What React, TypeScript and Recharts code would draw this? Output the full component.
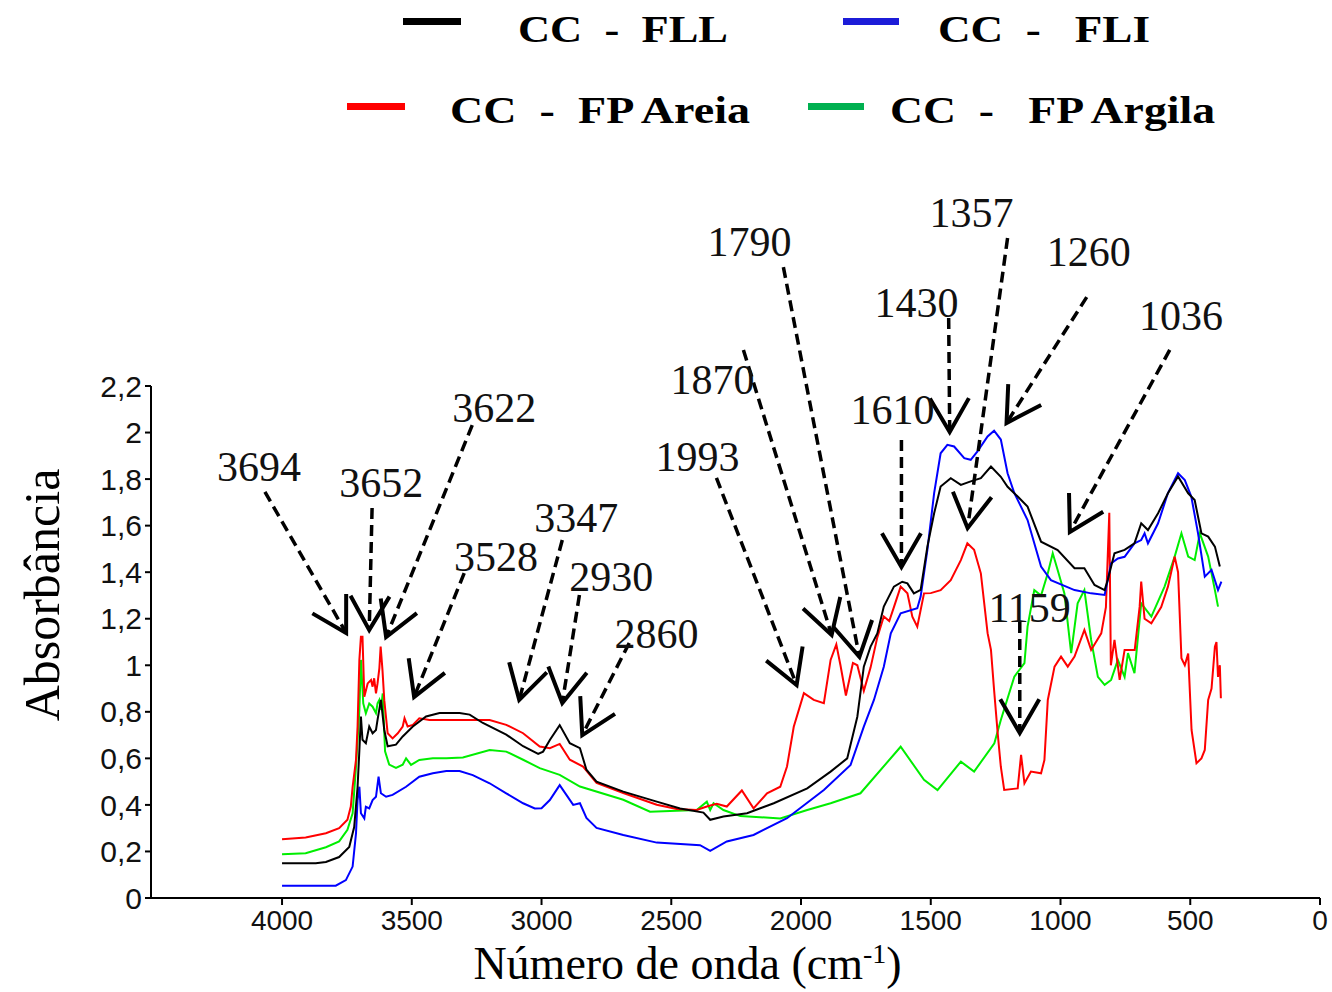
import React from 'react';
import {
  LineChart,
  Line,
  XAxis,
  YAxis,
  Legend,
  ReferenceLine,
  ReferenceDot,
} from 'recharts';

// spectra: [wavenumber (cm-1), absorbance]
const fllSpectrum: [number, number][] = [
  [4000, 0.149], [3870, 0.149], [3831, 0.155], [3780, 0.176], [3741, 0.219], [3722, 0.305],
  [3709, 0.476], [3702, 0.634], [3696, 0.78], [3690, 0.68], [3677, 0.665], [3664, 0.737],
  [3651, 0.708], [3638, 0.722], [3632, 0.765], [3619, 0.851], [3606, 0.722], [3593, 0.652],
  [3561, 0.659], [3535, 0.694], [3496, 0.737], [3445, 0.78], [3393, 0.795], [3316, 0.795],
  [3277, 0.788], [3226, 0.752], [3136, 0.702], [3071, 0.652], [3013, 0.619], [2994, 0.629],
  [2968, 0.679], [2930, 0.743], [2891, 0.665], [2852, 0.644], [2827, 0.551], [2788, 0.5],
  [2685, 0.457], [2556, 0.414], [2466, 0.385], [2376, 0.367], [2350, 0.336], [2299, 0.35],
  [2208, 0.364], [2105, 0.407], [1976, 0.471], [1886, 0.543], [1822, 0.6], [1783, 0.779],
  [1758, 0.994], [1732, 1.08], [1706, 1.137], [1681, 1.252], [1642, 1.338], [1610, 1.359],
  [1590, 1.352], [1565, 1.309], [1539, 1.324], [1513, 1.51], [1487, 1.653], [1462, 1.768],
  [1423, 1.804], [1384, 1.775], [1346, 1.79], [1307, 1.804], [1268, 1.854], [1230, 1.81],
  [1204, 1.767], [1165, 1.725], [1127, 1.682], [1075, 1.531], [1011, 1.495], [946, 1.417],
  [908, 1.417], [869, 1.345], [830, 1.323], [818, 1.366], [792, 1.481], [753, 1.496],
  [715, 1.524], [689, 1.61], [663, 1.581], [624, 1.653], [586, 1.739], [547, 1.811],
  [508, 1.739], [483, 1.71], [457, 1.567], [431, 1.553], [405, 1.51], [386, 1.424],
];

const fliSpectrum: [number, number][] = [
  [4000, 0.053], [3793, 0.053], [3754, 0.077], [3728, 0.135], [3715, 0.278], [3709, 0.421],
  [3702, 0.478], [3696, 0.364], [3683, 0.342], [3677, 0.392], [3664, 0.385], [3651, 0.421],
  [3638, 0.435], [3628, 0.521], [3619, 0.45], [3599, 0.435], [3574, 0.443], [3522, 0.478],
  [3471, 0.521], [3419, 0.536], [3367, 0.546], [3316, 0.546], [3265, 0.528], [3200, 0.493],
  [3136, 0.45], [3071, 0.407], [3026, 0.385], [3000, 0.386], [2968, 0.421], [2930, 0.485],
  [2878, 0.4], [2852, 0.407], [2827, 0.344], [2788, 0.301], [2685, 0.271], [2556, 0.238],
  [2389, 0.227], [2350, 0.203], [2286, 0.243], [2183, 0.271], [2054, 0.343], [1912, 0.464],
  [1809, 0.572], [1758, 0.736], [1719, 0.851], [1681, 0.994], [1654, 1.137], [1616, 1.223],
  [1552, 1.245], [1539, 1.295], [1513, 1.496], [1487, 1.74], [1462, 1.911], [1436, 1.947],
  [1410, 1.94], [1371, 1.89], [1346, 1.883], [1320, 1.919], [1281, 1.983], [1256, 2.008],
  [1230, 1.97], [1204, 1.825], [1178, 1.74], [1127, 1.624], [1075, 1.424], [1037, 1.366],
  [946, 1.323], [882, 1.309], [830, 1.302], [818, 1.366], [805, 1.438], [779, 1.459],
  [753, 1.466], [715, 1.524], [689, 1.538], [676, 1.567], [663, 1.524], [624, 1.61],
  [586, 1.74], [547, 1.825], [521, 1.796], [496, 1.725], [470, 1.567], [444, 1.381],
  [418, 1.41], [393, 1.323], [380, 1.359],
];

const areiaSpectrum: [number, number][] = [
  [4000, 0.252], [3909, 0.26], [3831, 0.278], [3780, 0.3], [3748, 0.336], [3735, 0.393],
  [3728, 0.478], [3715, 0.593], [3709, 0.736], [3702, 1.023], [3696, 1.123], [3690, 1.123],
  [3683, 0.865], [3670, 0.922], [3657, 0.937], [3651, 0.908], [3645, 0.944], [3638, 0.879],
  [3632, 0.922], [3625, 0.987], [3620, 1.08], [3613, 0.98], [3606, 0.85], [3593, 0.708],
  [3574, 0.686], [3554, 0.708], [3535, 0.737], [3528, 0.772], [3516, 0.737], [3496, 0.744],
  [3471, 0.772], [3432, 0.765], [3342, 0.765], [3200, 0.765], [3136, 0.744], [3071, 0.708],
  [3007, 0.651], [2968, 0.644], [2930, 0.662], [2891, 0.594], [2840, 0.565], [2788, 0.494],
  [2685, 0.451], [2556, 0.401], [2479, 0.382], [2402, 0.378], [2363, 0.393], [2325, 0.405],
  [2286, 0.393], [2228, 0.462], [2183, 0.385], [2131, 0.45], [2080, 0.478], [2054, 0.565],
  [2028, 0.736], [1989, 0.88], [1951, 0.851], [1912, 0.837], [1886, 1.023], [1864, 1.09],
  [1848, 1.0], [1827, 0.87], [1800, 1.01], [1783, 1.0], [1758, 0.89], [1732, 0.99],
  [1706, 1.12], [1681, 1.21], [1660, 1.19], [1642, 1.25], [1616, 1.338], [1590, 1.309],
  [1571, 1.209], [1552, 1.166], [1526, 1.309], [1500, 1.31], [1462, 1.323], [1423, 1.366],
  [1384, 1.452], [1359, 1.524], [1333, 1.496], [1307, 1.395], [1281, 1.138], [1268, 1.066],
  [1256, 0.894], [1242, 0.707], [1230, 0.564], [1217, 0.464], [1165, 0.471], [1152, 0.615],
  [1139, 0.493], [1114, 0.543], [1075, 0.536], [1062, 0.593], [1049, 0.851], [1023, 0.994],
  [998, 1.037], [972, 0.994], [946, 1.037], [908, 1.152], [882, 1.066], [843, 1.137],
  [825, 1.25], [812, 1.655], [806, 1.0], [792, 1.109], [772, 0.937], [753, 1.066],
  [714, 1.066], [695, 1.252], [689, 1.36], [676, 1.2], [650, 1.18], [612, 1.25],
  [586, 1.338], [560, 1.467], [547, 1.4], [534, 1.03], [521, 1.0], [508, 1.05],
  [495, 0.722], [476, 0.579], [457, 0.6], [444, 0.636], [431, 0.851], [418, 0.9],
  [405, 1.08], [399, 1.1], [393, 0.95], [386, 1.0], [382, 0.858],
];

const argilaSpectrum: [number, number][] = [
  [4000, 0.188], [3909, 0.192], [3831, 0.218], [3780, 0.243], [3748, 0.293], [3728, 0.364],
  [3715, 0.564], [3702, 0.807], [3696, 1.023], [3687, 0.836], [3677, 0.794], [3664, 0.836],
  [3651, 0.822], [3638, 0.794], [3632, 0.836], [3625, 0.851], [3619, 0.808], [3612, 0.879],
  [3603, 0.63], [3587, 0.573], [3561, 0.559], [3535, 0.573], [3522, 0.6], [3503, 0.572],
  [3471, 0.593], [3419, 0.6], [3367, 0.6], [3303, 0.604], [3200, 0.636], [3136, 0.629],
  [3071, 0.594], [3007, 0.558], [2930, 0.529], [2852, 0.479], [2685, 0.422], [2582, 0.371],
  [2402, 0.378], [2363, 0.414], [2350, 0.378], [2337, 0.407], [2299, 0.378], [2234, 0.352],
  [2080, 0.342], [1976, 0.378], [1886, 0.407], [1771, 0.45], [1616, 0.65], [1526, 0.508],
  [1474, 0.464], [1384, 0.586], [1333, 0.543], [1255, 0.665], [1230, 0.765], [1178, 0.951],
  [1139, 1.009], [1127, 1.166], [1101, 1.323], [1075, 1.3], [1049, 1.395], [1030, 1.481],
  [1011, 1.409], [985, 1.309], [959, 1.052], [934, 1.266], [908, 1.323], [882, 1.109],
  [856, 0.95], [830, 0.916], [805, 0.937], [779, 1.023], [753, 0.95], [740, 1.052],
  [715, 0.966], [689, 1.266], [650, 1.209], [599, 1.338], [560, 1.467], [534, 1.567],
  [508, 1.467], [483, 1.452], [463, 1.567], [431, 1.467], [405, 1.323], [393, 1.252],
];

const wavenumberTicks = [4000, 3500, 3000, 2500, 2000, 1500, 1000, 500, 0];
const absorbanceTicks = [0, 0.2, 0.4, 0.6, 0.8, 1, 1.2, 1.4, 1.6, 1.8, 2, 2.2];

// drawing order: green under, black on top
const series = [
  { key: 'argila', name: 'CC  -   FP Argila', color: '#00ee00', swatch: '#00b050', data: argilaSpectrum },
  { key: 'areia', name: 'CC  -  FP Areia', color: '#ff0000', swatch: '#ff0000', data: areiaSpectrum },
  { key: 'fli', name: 'CC  -   FLI', color: '#0000ff', swatch: '#1c1cd8', data: fliSpectrum },
  { key: 'fll', name: 'CC  -  FLL', color: '#000000', swatch: '#000000', data: fllSpectrum },
];

// peak annotations, all in data units (wavenumber, absorbance)
const peakNotes = [
  { label: '3694', text: [4089, 1.852], from: [4066, 1.745], to: [3753, 1.139] },
  { label: '3652', text: [3618, 1.783], from: [3653, 1.676], to: [3664, 1.152] },
  { label: '3622', text: [3182, 2.105], from: [3267, 2.032], to: [3599, 1.121] },
  { label: '3528', text: [3175, 1.465], from: [3298, 1.396], to: [3491, 0.864] },
  { label: '3347', text: [2866, 1.633], from: [2920, 1.538], to: [3086, 0.851] },
  { label: '2930', text: [2731, 1.379], from: [2854, 1.302], to: [2920, 0.838] },
  { label: '2860', text: [2557, 1.134], from: [2662, 1.096], to: [2843, 0.7] },
  { label: '1993', text: [2399, 1.895], from: [2326, 1.805], to: [2017, 0.915] },
  { label: '1870', text: [2341, 2.226], from: [2222, 2.355], to: [1882, 1.13] },
  { label: '1790', text: [2199, 2.819], from: [2068, 2.711], to: [1775, 1.036] },
  { label: '1610', text: [1647, 2.097], from: [1613, 1.968], to: [1613, 1.422] },
  { label: '1430', text: [1555, 2.557], from: [1431, 2.492], to: [1427, 2.002] },
  { label: '1357', text: [1343, 2.943], from: [1204, 2.836], to: [1358, 1.59] },
  { label: '1260', text: [891, 2.776], from: [899, 2.582], to: [1208, 2.041] },
  { label: '1036', text: [536, 2.501], from: [579, 2.355], to: [964, 1.573] },
  { label: '1159', text: [1119, 1.246], from: [1157, 1.186], to: [1157, 0.709] },
];

const serif = '"Liberation Serif", "Times New Roman", serif';
const sans = '"Liberation Sans", Arial, sans-serif';

const DashedArrow = (props: any) => {
  const { x1, y1, x2, y2 } = props;
  const ang = Math.atan2(y2 - y1, x2 - x1);
  const len = 39;
  const spread = Math.PI / 6;
  const ax = x2 - len * Math.cos(ang - spread);
  const ay = y2 - len * Math.sin(ang - spread);
  const bx = x2 - len * Math.cos(ang + spread);
  const by = y2 - len * Math.sin(ang + spread);
  return (
    <g>
      <line x1={x1} y1={y1} x2={x2} y2={y2} stroke="#000" strokeWidth={3.5} strokeDasharray="11 6" />
      <polyline
        points={`${ax},${ay} ${x2},${y2} ${bx},${by}`}
        fill="none"
        stroke="#000"
        strokeWidth={4}
      />
    </g>
  );
};

const NoteText = (label: string) => (props: any) => (
  <text
    x={props.cx}
    y={props.cy}
    textAnchor="middle"
    dominantBaseline="central"
    fontFamily={serif}
    fontSize={42}
    fill="#111"
  >
    {label}
  </text>
);

// legend placement: swatch box and text start / width, baseline
const legendSlots: Record<string, { sx: number; sw: number; sy: number; tx: number; tw: number; ty: number }> = {
  fll: { sx: 403, sw: 58, sy: 18, tx: 518, tw: 210, ty: 42 },
  fli: { sx: 843, sw: 56, sy: 18, tx: 938, tw: 212, ty: 42 },
  areia: { sx: 347, sw: 58, sy: 103, tx: 450, tw: 300, ty: 123 },
  argila: { sx: 808, sw: 56, sy: 103, tx: 890, tw: 325, ty: 123 },
};

const LegendContent = () => (
  <svg width={1332} height={150}>
    {series.map((s) => {
      const slot = legendSlots[s.key];
      return (
        <g key={s.key}>
          <rect x={slot.sx} y={slot.sy} width={slot.sw} height={7} fill={s.swatch} />
          <text
            x={slot.tx}
            y={slot.ty}
            textLength={slot.tw}
            lengthAdjust="spacingAndGlyphs"
            fontFamily={serif}
            fontWeight="bold"
            fontSize={38}
            fill="#000"
            style={{ whiteSpace: 'pre' }}
          >
            {s.name}
          </text>
        </g>
      );
    })}
  </svg>
);

const XTitle = (props: any) => {
  const { viewBox } = props;
  const cx = viewBox.x + viewBox.width / 2 - 48;
  return (
    <text x={cx} y={979} textAnchor="middle" fontFamily={serif} fontSize={46} fill="#000">
      Número de onda (cm
      <tspan dy={-16} fontSize={28}>-1</tspan>
      <tspan dy={16}>)</tspan>
    </text>
  );
};

const YTitle = (props: any) => {
  const { viewBox } = props;
  const cy = viewBox.y + viewBox.height / 2 - 47;
  return (
    <text
      x={42}
      y={cy}
      transform={`rotate(-90, 42, ${cy})`}
      textAnchor="middle"
      dominantBaseline="central"
      fontFamily={serif}
      fontSize={50}
      fill="#000"
    >
      Absorbância
    </text>
  );
};

export default function App() {
  return (
    <div style={{ position: 'absolute', left: 0, top: 0, width: 1332, height: 992, background: '#fff' }}>
      <LineChart width={1332} height={992} margin={{ top: 386, right: 12, bottom: 44, left: 81 }}>
        <XAxis
          type="number"
          dataKey="wn"
          domain={[0, 4505]}
          allowDataOverflow
          reversed
          ticks={wavenumberTicks}
          interval={0}
          height={50}
          stroke="#000"
          strokeWidth={2}
          tickSize={7}
          tickMargin={5}
          tick={{ fontSize: 28, fill: '#111', fontFamily: sans }}
          label={<XTitle />}
        />
        <YAxis
          type="number"
          dataKey="abs"
          domain={[0, 2.2]}
          ticks={absorbanceTicks}
          interval={0}
          width={70}
          stroke="#000"
          strokeWidth={2}
          tickSize={6}
          tickMargin={3}
          tickFormatter={(v: number) => String(Math.round(v * 10) / 10).replace('.', ',')}
          tick={{ fontSize: 30, fill: '#111', fontFamily: sans }}
          label={<YTitle />}
        />
        <Legend
          layout="vertical"
          align="center"
          verticalAlign="middle"
          wrapperStyle={{ top: 0, left: 0, width: 1332, height: 150 }}
          content={<LegendContent />}
        />
        {series.map((s) => (
          <Line
            key={s.key}
            name={s.name}
            data={s.data.map(([wn, abs]) => ({ wn, abs }))}
            dataKey="abs"
            type="linear"
            stroke={s.color}
            strokeWidth={2}
            dot={false}
            activeDot={false}
            isAnimationActive={false}
          />
        ))}
        {peakNotes.map((n) => (
          <ReferenceLine
            key={`arrow-${n.label}`}
            segment={[
              { x: n.from[0], y: n.from[1] },
              { x: n.to[0], y: n.to[1] },
            ]}
            ifOverflow="visible"
            shape={DashedArrow}
          />
        ))}
        {peakNotes.map((n) => (
          <ReferenceDot
            key={`label-${n.label}`}
            x={n.text[0]}
            y={n.text[1]}
            r={0}
            ifOverflow="visible"
            shape={NoteText(n.label)}
          />
        ))}
      </LineChart>
    </div>
  );
}
